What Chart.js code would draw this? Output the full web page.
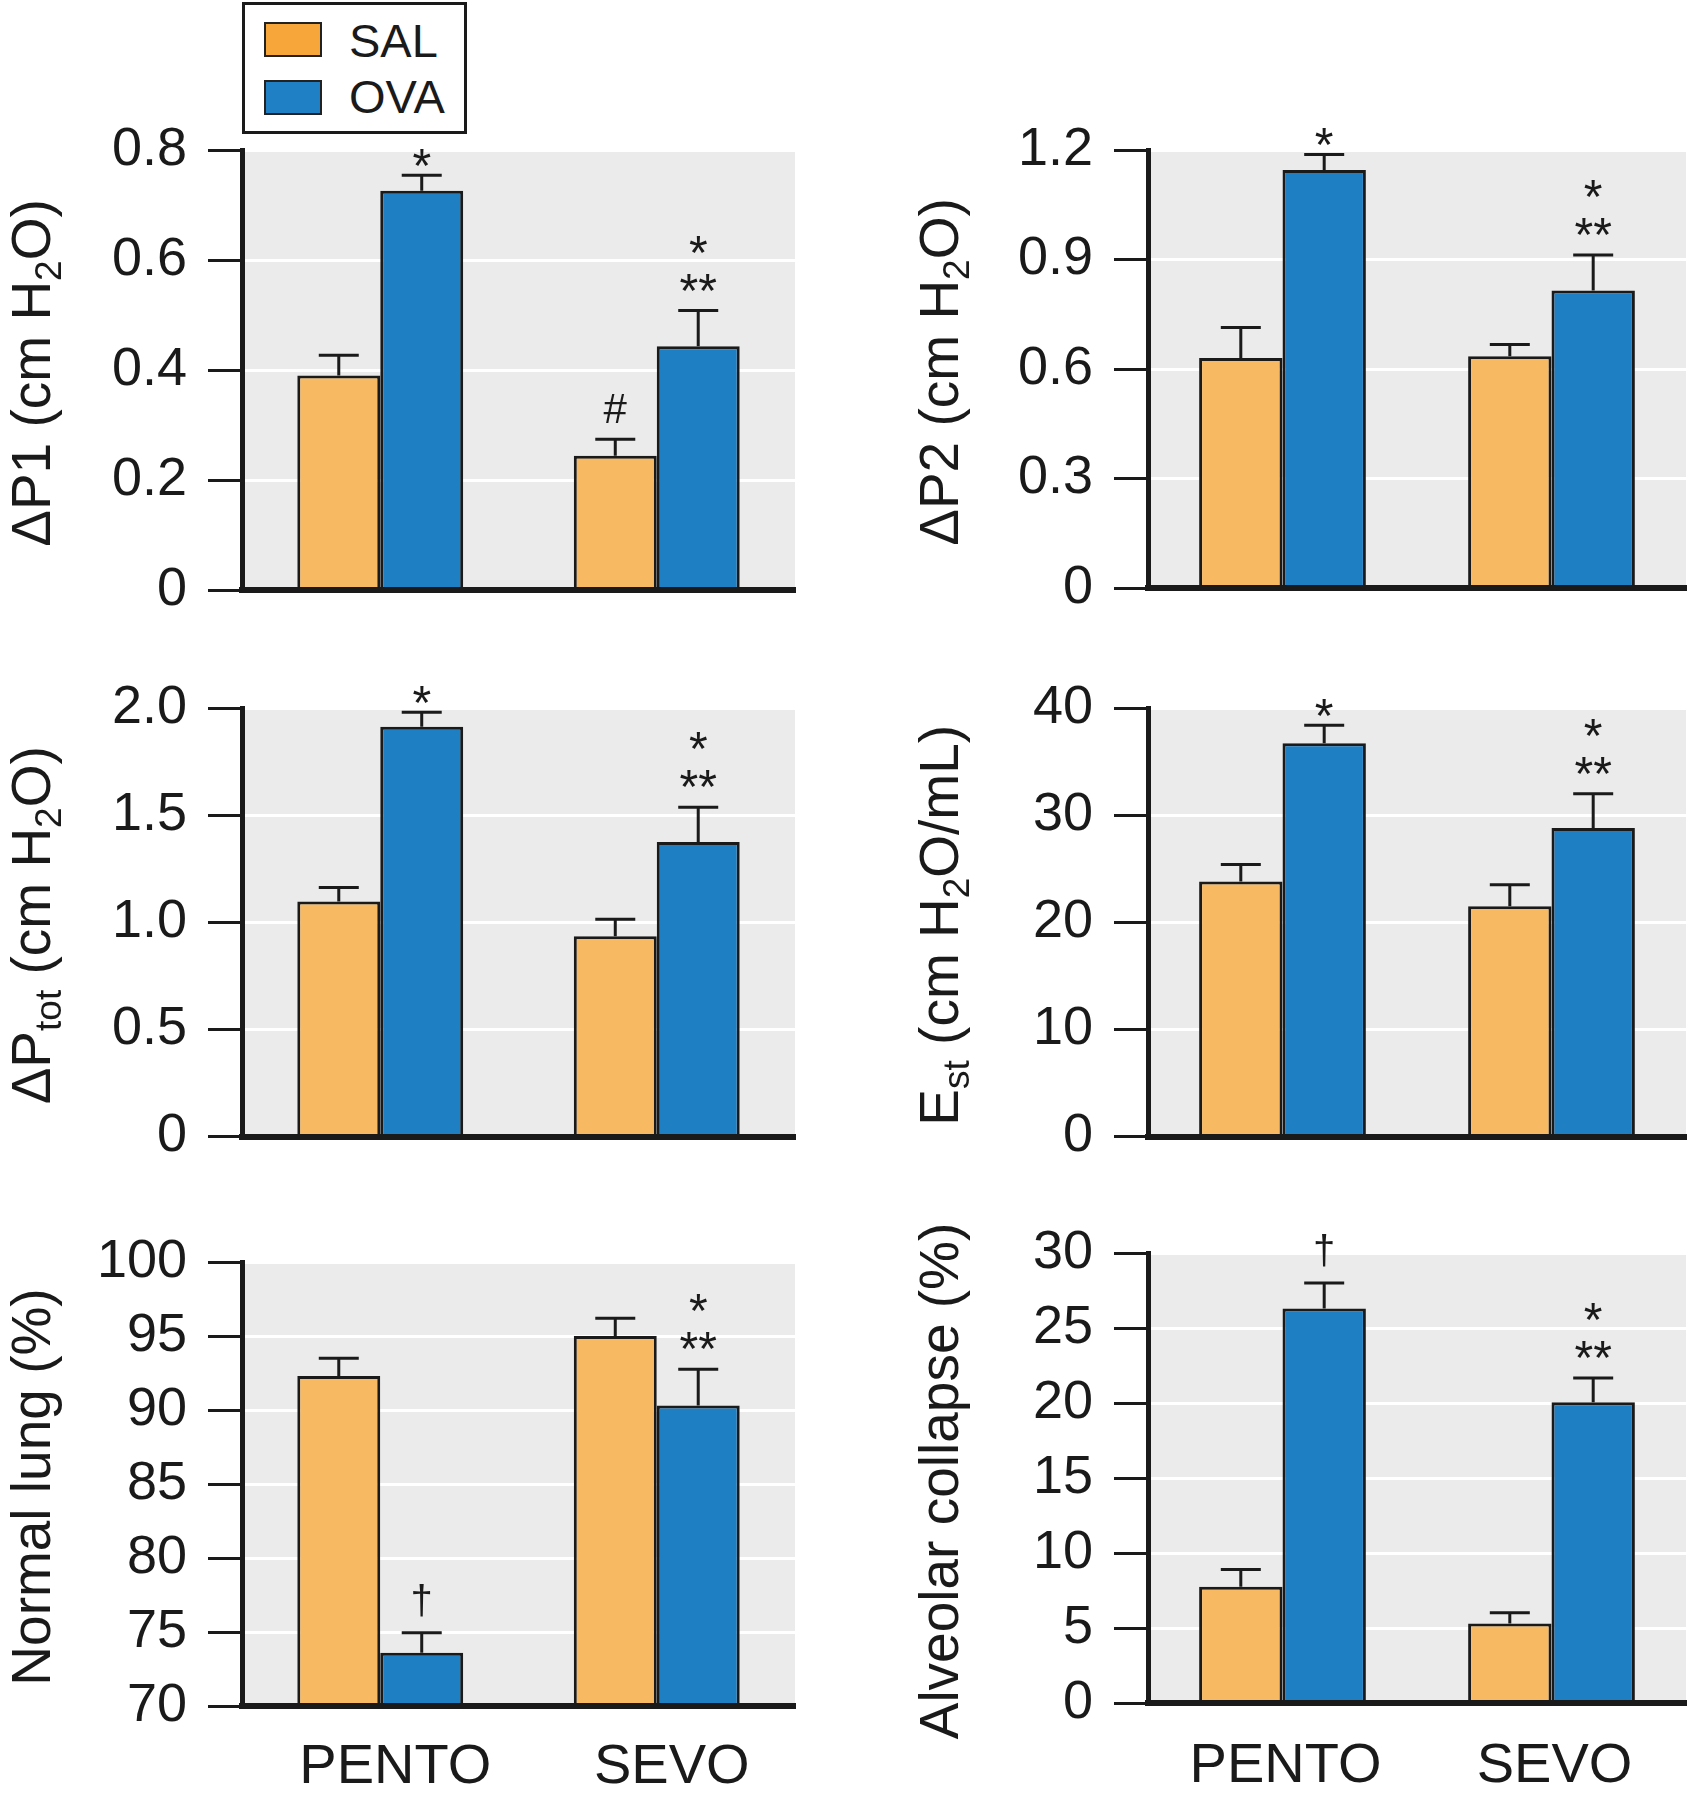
<!DOCTYPE html>
<html>
<head>
<meta charset="utf-8">
<script src="https://cdn.jsdelivr.net/npm/chart.js@4.4.0/dist/chart.umd.min.js"></script>
<style>
html,body{margin:0;padding:0;background:#fff;}
#wrap{position:relative;width:1701px;height:1794px;overflow:hidden;background:#fff;}
#wrap canvas{position:absolute;}
#legend{position:absolute;left:242px;top:2px;width:219px;height:126px;border:3px solid #1a1a1a;background:#fff;font-family:'Liberation Sans',Arial,sans-serif;color:#1a1a1a;}
.sw{position:absolute;left:19px;width:54px;height:31px;border:2.5px solid #222;}
.lt{position:absolute;left:104px;font-size:47px;line-height:47px;white-space:nowrap;}
</style>
</head>
<body>
<div id="wrap"></div>
<script>
// ---------------- data ----------------
const groups = ['PENTO', 'SEVO'];
const seriesNames = ['SAL', 'OVA'];
const barColors = ['#F7B961', '#1F7FC3'];
const legendColors = ['#F7A73A', '#1F80C6'];

const yTitles = [
  'ΔP1 (cm H_{2}O)',
  'ΔP2 (cm H_{2}O)',
  'ΔP_{tot} (cm H_{2}O)',
  'E_{st} (cm H_{2}O/mL)',
  'Normal lung (%)',
  'Alveolar collapse (%)'
];

// Panel 1: ΔP1
const dp1SAL = [0.390, 0.244];
const dp1SALerr = [0.037, 0.030];
const dp1OVA = [0.726, 0.443];
const dp1OVAerr = [0.028, 0.065];
const dp1SALmarks = ['', '#'];
const dp1OVAmarks = ['*', '*|**'];
const dp1Ticks = [0, 0.2, 0.4, 0.6, 0.8];
const dp1TickLabels = ['0', '0.2', '0.4', '0.6', '0.8'];

// Panel 2: ΔP2
const dp2SAL = [0.630, 0.635];
const dp2SALerr = [0.084, 0.032];
const dp2OVA = [1.145, 0.815];
const dp2OVAerr = [0.043, 0.097];
const dp2SALmarks = ['', ''];
const dp2OVAmarks = ['*', '*|**'];
const dp2Ticks = [0, 0.3, 0.6, 0.9, 1.2];
const dp2TickLabels = ['0', '0.3', '0.6', '0.9', '1.2'];

// Panel 3: ΔPtot
const dptSAL = [1.097, 0.935];
const dptSALerr = [0.065, 0.079];
const dptOVA = [1.912, 1.375];
const dptOVAerr = [0.068, 0.162];
const dptSALmarks = ['', ''];
const dptOVAmarks = ['*', '*|**'];
const dptTicks = [0, 0.5, 1.0, 1.5, 2.0];
const dptTickLabels = ['0', '0.5', '1.0', '1.5', '2.0'];

// Panel 4: Est
const estSAL = [23.8, 21.5];
const estSALerr = [1.6, 2.0];
const estOVA = [36.7, 28.8];
const estOVAerr = [1.7, 3.2];
const estSALmarks = ['', ''];
const estOVAmarks = ['*', '*|**'];
const estTicks = [0, 10, 20, 30, 40];
const estTickLabels = ['0', '10', '20', '30', '40'];

// Panel 5: Normal lung
const nlSAL = [92.3, 95.0];
const nlSALerr = [1.2, 1.2];
const nlOVA = [73.6, 90.3];
const nlOVAerr = [1.35, 2.45];
const nlSALmarks = ['', ''];
const nlOVAmarks = ['†', '*|**'];
const nlTicks = [70, 75, 80, 85, 90, 95, 100];
const nlTickLabels = ['70', '75', '80', '85', '90', '95', '100'];

// Panel 6: Alveolar collapse
const acSAL = [7.75, 5.3];
const acSALerr = [1.15, 0.72];
const acOVA = [26.3, 20.05];
const acOVAerr = [1.7, 1.62];
const acSALmarks = ['', ''];
const acOVAmarks = ['†', '*|**'];
const acTicks = [0, 5, 10, 15, 20, 25, 30];
const acTickLabels = ['0', '5', '10', '15', '20', '25', '30'];

// ---------------- layout ----------------
const FONT = "'Liberation Sans', Arial, sans-serif";
const INK = '#1a1a1a';

const panels = [
  {x:0,   y:0,    w:850, h:650, left:242, top:150, bottom:590, right:795, titleX:50,  showX:false, cat:0.60, lo:15, xpad:28,
   sal:dp1SAL, salErr:dp1SALerr, ova:dp1OVA, ovaErr:dp1OVAerr, salM:dp1SALmarks, ovaM:dp1OVAmarks, ticks:dp1Ticks, labels:dp1TickLabels, title:yTitles[0]},
  {x:850, y:0,    w:851, h:650, left:298, top:150, bottom:588, right:836, titleX:108, showX:false, cat:0.62, lo:3, xpad:30,
   sal:dp2SAL, salErr:dp2SALerr, ova:dp2OVA, ovaErr:dp2OVAerr, salM:dp2SALmarks, ovaM:dp2OVAmarks, ticks:dp2Ticks, labels:dp2TickLabels, title:yTitles[1]},
  {x:0,   y:650,  w:850, h:540, left:242, top:58,  bottom:495, right:795, titleX:50,  showX:false, cat:0.60, lo:15, xpad:28,
   sal:dptSAL, salErr:dptSALerr, ova:dptOVA, ovaErr:dptOVAerr, salM:dptSALmarks, ovaM:dptOVAmarks, ticks:dptTicks, labels:dptTickLabels, title:yTitles[2]},
  {x:850, y:650,  w:851, h:540, left:298, top:58,  bottom:495, right:836, titleX:108, showX:false, cat:0.62, lo:3, xpad:30,
   sal:estSAL, salErr:estSALerr, ova:estOVA, ovaErr:estOVAerr, salM:estSALmarks, ovaM:estOVAmarks, ticks:estTicks, labels:estTickLabels, title:yTitles[3]},
  {x:0,   y:1190, w:850, h:604, left:242, top:72,  bottom:516, right:795, titleX:50,  showX:true,  cat:0.60, lo:15, xpad:28,
   sal:nlSAL, salErr:nlSALerr, ova:nlOVA, ovaErr:nlOVAerr, salM:nlSALmarks, ovaM:nlOVAmarks, ticks:nlTicks, labels:nlTickLabels, title:yTitles[4]},
  {x:850, y:1190, w:851, h:604, left:298, top:63,  bottom:513, right:836, titleX:108, showX:true,  cat:0.62, lo:3, xpad:30,
   sal:acSAL, salErr:acSALerr, ova:acOVA, ovaErr:acOVAerr, salM:acSALmarks, ovaM:acOVAmarks, ticks:acTicks, labels:acTickLabels, title:yTitles[5]}
];

// ---------------- plugins ----------------
const bgPlugin = {
  id: 'plotBg',
  beforeDraw(chart) {
    const a = chart.chartArea, ctx = chart.ctx;
    ctx.save();
    ctx.fillStyle = '#ebebeb';
    ctx.fillRect(a.left, a.top, a.right - a.left, a.bottom - a.top);
    ctx.restore();
  }
};

const errPlugin = {
  id: 'errMarks',
  afterDatasetsDraw(chart) {
    const ctx = chart.ctx, ys = chart.scales.y;
    chart.data.datasets.forEach((ds, di) => {
      const meta = chart.getDatasetMeta(di);
      meta.data.forEach((bar, i) => {
        const v = ds.data[i], e = ds.errs[i];
        const yTop = ys.getPixelForValue(v + e);
        ctx.save();
        ctx.strokeStyle = INK;
        ctx.lineWidth = 3;
        ctx.beginPath();
        ctx.moveTo(bar.x, bar.y);
        ctx.lineTo(bar.x, yTop);
        ctx.moveTo(bar.x - 20, yTop);
        ctx.lineTo(bar.x + 20, yTop);
        ctx.stroke();
        const mark = ds.marks[i];
        if (mark) {
          const lines = mark.split('|');
          ctx.fillStyle = INK;
          ctx.textAlign = 'center';
          ctx.textBaseline = 'alphabetic';
          let gap = lines.length > 1 ? 20 : (mark === '*' ? 9 : 16);
          let center = null;
          for (let k = lines.length - 1; k >= 0; k--) {
            const t = lines[k];
            const size = t === '#' ? 42 : (t === '†' ? 40 : 48);
            ctx.font = size + 'px ' + FONT;
            const m = ctx.measureText(t);
            const asc = m.actualBoundingBoxAscent, desc = m.actualBoundingBoxDescent;
            if (center === null) center = yTop - gap - (asc + desc) / 2;
            else center -= 38;
            ctx.fillText(t, bar.x, center + (asc - desc) / 2);
          }
        }
        ctx.restore();
      });
    });
  }
};

function parseTitle(s) {
  const segs = [];
  const re = /_\{([^}]*)\}/g;
  let last = 0, m;
  while ((m = re.exec(s)) !== null) {
    if (m.index > last) segs.push({t: s.slice(last, m.index), sub: false});
    segs.push({t: m[1], sub: true});
    last = re.lastIndex;
  }
  if (last < s.length) segs.push({t: s.slice(last), sub: false});
  return segs;
}

const titlePlugin = {
  id: 'yTitleSub',
  afterDraw(chart, args, opts) {
    const ctx = chart.ctx, a = chart.chartArea;
    const segs = parseTitle(opts.text);
    const mainF = '55px ' + FONT, subF = '37px ' + FONT;
    ctx.save();
    let total = 0;
    segs.forEach(sg => { ctx.font = sg.sub ? subF : mainF; sg.w = ctx.measureText(sg.t).width; total += sg.w; });
    ctx.translate(opts.x, (a.top + a.bottom) / 2 + 3);
    ctx.rotate(-Math.PI / 2);
    ctx.fillStyle = INK;
    ctx.textBaseline = 'alphabetic';
    ctx.textAlign = 'left';
    let x = -total / 2;
    segs.forEach(sg => {
      ctx.font = sg.sub ? subF : mainF;
      ctx.fillText(sg.t, x, sg.sub ? 11 : 0);
      x += sg.w;
    });
    ctx.restore();
  }
};

// ---------------- build ----------------
const wrap = document.getElementById('wrap');

panels.forEach((p) => {
  const cv = document.createElement('canvas');
  cv.width = p.w; cv.height = p.h;
  cv.style.left = p.x + 'px'; cv.style.top = p.y + 'px';
  cv.style.width = p.w + 'px'; cv.style.height = p.h + 'px';
  wrap.appendChild(cv);

  const xHeight = p.showX ? (p.h - p.bottom) : 0;
  new Chart(cv.getContext('2d'), {
    type: 'bar',
    data: {
      labels: groups,
      datasets: [
        {label: seriesNames[0], data: p.sal, errs: p.salErr, marks: p.salM,
         backgroundColor: barColors[0], borderColor: INK, borderWidth: 3,
         categoryPercentage: p.cat, barPercentage: 1.0},
        {label: seriesNames[1], data: p.ova, errs: p.ovaErr, marks: p.ovaM,
         backgroundColor: barColors[1], borderColor: INK, borderWidth: 3,
         categoryPercentage: p.cat, barPercentage: 1.0}
      ]
    },
    options: {
      responsive: false,
      animation: false,
      devicePixelRatio: 1,
      layout: {padding: {left: 0, top: p.top, right: p.w - p.right, bottom: p.showX ? 0 : (p.h - p.bottom)}},
      plugins: {
        legend: {display: false},
        tooltip: {enabled: false},
        title: {display: false},
        yTitleSub: {text: p.title, x: p.titleX}
      },
      scales: {
        x: {
          grid: {display: false, drawTicks: false},
          border: {display: true, color: INK, width: 6, z: 1},
          ticks: {display: p.showX, color: INK, font: {family: FONT, size: 56}, padding: p.xpad, labelOffset: p.lo, maxRotation: 0},
          afterFit: (s) => { s.height = xHeight; }
        },
        y: {
          min: p.ticks[0],
          max: p.ticks[p.ticks.length - 1],
          afterBuildTicks: (s) => { s.ticks = p.ticks.map(v => ({value: v})); },
          afterFit: (s) => { s.width = p.left; },
          grid: {color: '#ffffff', lineWidth: 3, drawTicks: true, tickLength: 34, tickWidth: 3, tickColor: INK},
          border: {display: true, color: INK, width: 5},
          ticks: {
            autoSkip: false,
            color: INK,
            padding: 21,
            font: {family: FONT, size: 54},
            callback: (v, i) => p.labels[i]
          }
        }
      }
    },
    plugins: [bgPlugin, errPlugin, titlePlugin]
  });
});

// legend (HTML)
const lg = document.createElement('div');
lg.id = 'legend';
seriesNames.forEach((n, i) => {
  const sw = document.createElement('div');
  sw.className = 'sw';
  sw.style.top = (17 + i * 58) + 'px';
  sw.style.background = legendColors[i];
  lg.appendChild(sw);
  const t = document.createElement('div');
  t.className = 'lt';
  t.style.top = (12 + i * 56) + 'px';
  t.textContent = n;
  lg.appendChild(t);
});
wrap.appendChild(lg);
</script>
</body>
</html>
